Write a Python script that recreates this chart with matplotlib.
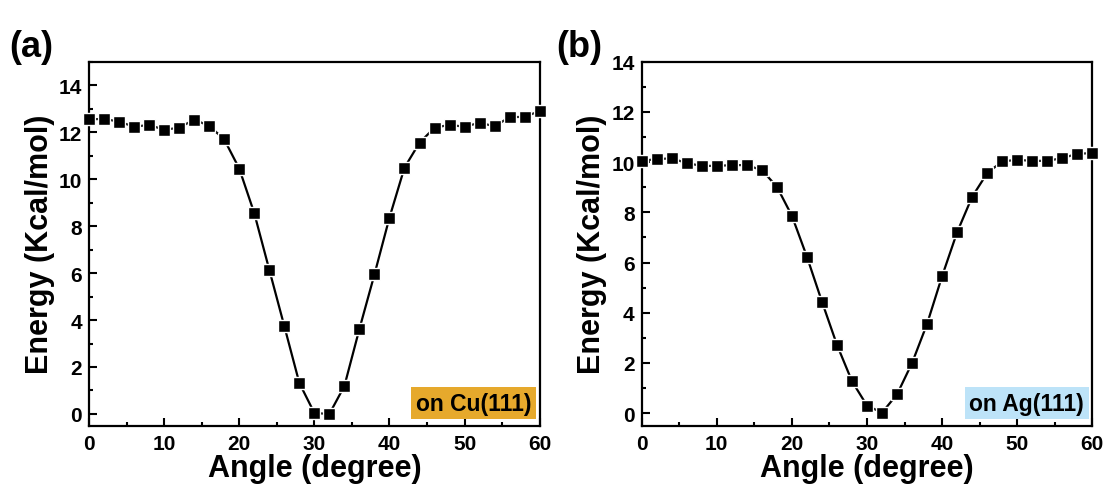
import numpy as np
import matplotlib.pyplot as plt
from matplotlib.ticker import MultipleLocator

plt.rcParams['font.family'] = ['Liberation Sans', 'DejaVu Sans']
plt.rcParams['font.weight'] = 'bold'

# Rotation angle (degree), every 2 degrees
angle = np.arange(0, 62, 2)

# Energy on Cu(111), Kcal/mol
energy_cu = [12.55, 12.56, 12.45, 12.23, 12.31, 12.10, 12.19, 12.53, 12.27, 11.69,
             10.45, 8.55, 6.14, 3.74, 1.32, 0.04, 0.0, 1.19, 3.62, 5.94,
             8.36, 10.49, 11.55, 12.19, 12.31, 12.23, 12.40, 12.25, 12.64, 12.65,
             12.90]

# Energy on Ag(111), Kcal/mol
energy_ag = [10.05, 10.12, 10.15, 9.96, 9.85, 9.85, 9.88, 9.88, 9.68, 9.02,
             7.86, 6.23, 4.44, 2.72, 1.27, 0.30, 0.02, 0.75, 2.00, 3.56,
             5.46, 7.21, 8.62, 9.56, 10.03, 10.09, 10.05, 10.05, 10.16, 10.33,
             10.36]

panels = [
    ('(a)', energy_cu, 'on Cu(111)', '#E6A92C', 15),
    ('(b)', energy_ag, 'on Ag(111)', '#BDE3F8', 14),
]

fig = plt.figure(figsize=(11.1, 4.89), dpi=100)
lefts = [0.0802, 0.5781]
tag_x = [-0.178, -0.19]

for left, tx, (tag, energy, label, boxcol, ytop) in zip(lefts, tag_x, panels):
    ax = fig.add_axes([left, 0.1274, 0.406, 0.7444])
    ax.plot(angle, energy, color='black', lw=1.6, marker='s', ms=8,
            mfc='black', mec='white', mew=1.0, clip_on=False, zorder=3)
    ax.set_xlim(0, 60)
    ax.set_ylim(-0.5, ytop)
    ax.xaxis.set_major_locator(MultipleLocator(10))
    ax.xaxis.set_minor_locator(MultipleLocator(5))
    ax.yaxis.set_major_locator(MultipleLocator(2))
    ax.yaxis.set_minor_locator(MultipleLocator(1))
    ax.tick_params(which='both', direction='in', width=1.5, labelsize=15,
                   top=False, right=False)
    ax.tick_params(which='major', length=6)
    ax.tick_params(axis='y', which='major', pad=5)
    ax.tick_params(axis='x', which='major', pad=6)
    ax.tick_params(which='minor', length=3)
    for lab in ax.get_xticklabels() + ax.get_yticklabels():
        lab.set_fontweight('bold')
    for sp in ax.spines.values():
        sp.set_linewidth(1.6)
    ax.set_xlabel('Angle (degree)', fontsize=22, fontweight='bold', labelpad=0)
    ax.set_ylabel('Energy (Kcal/mol)', fontsize=22, fontweight='bold', labelpad=3)
    ax.text(0.982, 0.03, label, transform=ax.transAxes, ha='right', va='bottom',
            fontsize=16.5, fontweight='bold',
            bbox=dict(boxstyle='square,pad=0.2', fc=boxcol, ec='none'))
    ax.text(tx, 0.995, tag, transform=ax.transAxes, ha='left', va='bottom',
            fontsize=26, fontweight='bold')

fig.savefig('out.png', dpi=100)
